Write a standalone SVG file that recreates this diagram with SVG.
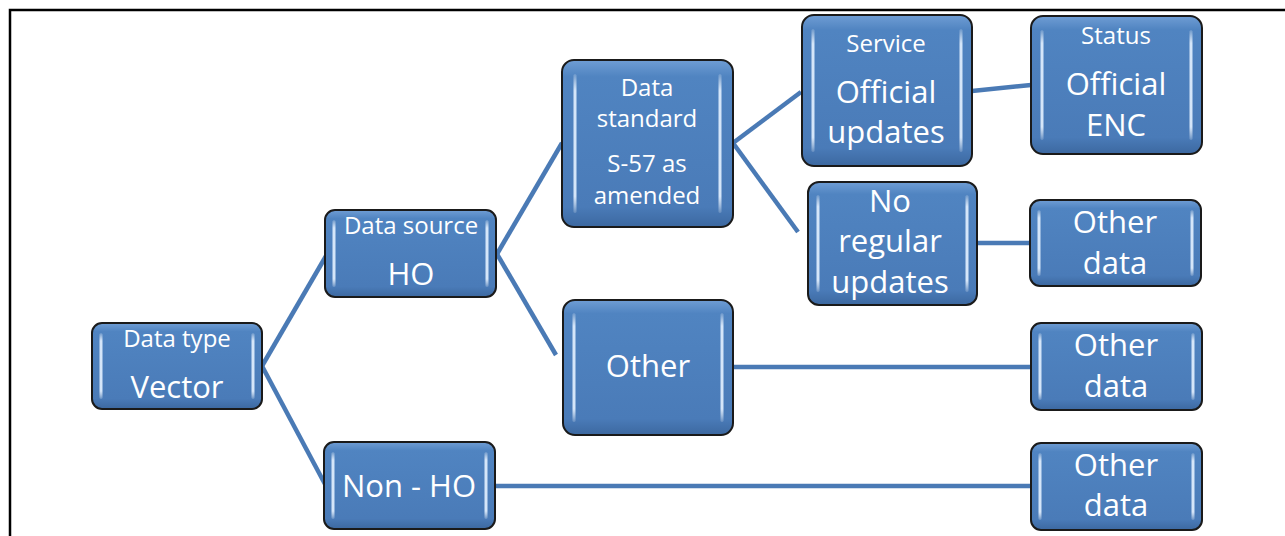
<svg xmlns="http://www.w3.org/2000/svg" width="1285" height="536" viewBox="0 0 1285 536">
<defs>
<linearGradient id="fillG" x1="0" y1="0" x2="0" y2="1">
<stop offset="0" stop-color="#6f9dd4"/>
<stop offset="0.1" stop-color="#5084c1"/>
<stop offset="0.88" stop-color="#4a7bb8"/>
<stop offset="1" stop-color="#3c68a0"/>
</linearGradient>
<linearGradient id="hiG" x1="0" y1="0" x2="0" y2="1">
<stop offset="0" stop-color="#ffffff" stop-opacity="0.15"/>
<stop offset="0.12" stop-color="#dcebfc" stop-opacity="0.95"/>
<stop offset="0.88" stop-color="#dcebfc" stop-opacity="0.95"/>
<stop offset="1" stop-color="#ffffff" stop-opacity="0.15"/>
</linearGradient>
</defs>
<style>
.box{fill:url(#fillG);stroke:#1a1a1a;stroke-width:2}
.hi{fill:url(#hiG)}
.conn{stroke:#4a7ab5;stroke-width:4.5;fill:none}
.s{font-family:"Open Sans","Liberation Sans",sans-serif;font-size:24px;fill:#ffffff;text-anchor:middle}
.l{font-family:"Open Sans","Liberation Sans",sans-serif;font-size:31px;fill:#ffffff;text-anchor:middle}
</style>
<rect width="1285" height="536" fill="#ffffff"/>
<path d="M10 536 V10 H1285" stroke="#000000" stroke-width="2.5" fill="none"/>
<g id="connectors">
<line class="conn" x1="262" y1="366" x2="326" y2="256"/>
<line class="conn" x1="262" y1="366" x2="326" y2="486"/>
<line class="conn" x1="497" y1="254" x2="562" y2="143"/>
<line class="conn" x1="497" y1="254" x2="556" y2="355"/>
<line class="conn" x1="733" y1="143" x2="801" y2="92"/>
<line class="conn" x1="733" y1="143" x2="798" y2="232"/>
<line class="conn" x1="972" y1="91" x2="1031" y2="85"/>
<line class="conn" x1="977" y1="243" x2="1030" y2="243"/>
<line class="conn" x1="733" y1="367" x2="1031" y2="367"/>
<line class="conn" x1="495" y1="486" x2="1031" y2="486"/>
</g>
<g id="n-datatype">
<rect class="box" x="92" y="323" width="170" height="86" rx="10"/>
<rect class="hi" x="99.5" y="333" width="3" height="66" rx="1.5"/>
<rect class="hi" x="251.5" y="333" width="3" height="66" rx="1.5"/>
<text class="s" x="177" y="347">Data type</text>
<text class="l" x="177" y="398">Vector</text>
</g>
<g id="n-datasource">
<rect class="box" x="325" y="210" width="171" height="87" rx="10"/>
<rect class="hi" x="332.5" y="220" width="3" height="67" rx="1.5"/>
<rect class="hi" x="485.5" y="220" width="3" height="67" rx="1.5"/>
<text class="s" x="411" y="234">Data source</text>
<text class="l" x="411" y="285">HO</text>
</g>
<g id="n-datastandard">
<rect class="box" x="562" y="60" width="171" height="167" rx="12"/>
<rect class="hi" x="573.5" y="74" width="3" height="139" rx="1.5"/>
<rect class="hi" x="718.5" y="74" width="3" height="139" rx="1.5"/>
<text class="s" x="647" y="96">Data</text>
<text class="s" x="647" y="127">standard</text>
<text class="s" x="647" y="172">S-57 as</text>
<text class="s" x="647" y="204">amended</text>
</g>
<g id="n-service">
<rect class="box" x="802" y="15" width="170" height="151" rx="12"/>
<rect class="hi" x="811.5" y="29" width="3" height="123" rx="1.5"/>
<rect class="hi" x="959.5" y="29" width="3" height="123" rx="1.5"/>
<text class="s" x="886" y="52">Service</text>
<text class="l" x="886" y="103">Official</text>
<text class="l" x="886" y="143">updates</text>
</g>
<g id="n-status">
<rect class="box" x="1031" y="16" width="171" height="138" rx="12"/>
<rect class="hi" x="1040.5" y="30" width="3" height="110" rx="1.5"/>
<rect class="hi" x="1189.5" y="30" width="3" height="110" rx="1.5"/>
<text class="s" x="1116" y="44">Status</text>
<text class="l" x="1116" y="95">Official</text>
<text class="l" x="1116" y="136">ENC</text>
</g>
<g id="n-noregular">
<rect class="box" x="808" y="182" width="169" height="123" rx="11"/>
<rect class="hi" x="816.5" y="195" width="3" height="97" rx="1.5"/>
<rect class="hi" x="965.5" y="195" width="3" height="97" rx="1.5"/>
<text class="l" x="890" y="212">No</text>
<text class="l" x="890" y="252">regular</text>
<text class="l" x="890" y="293">updates</text>
</g>
<g id="n-otherdata1">
<rect class="box" x="1030" y="200" width="171" height="86" rx="10"/>
<rect class="hi" x="1037.5" y="210" width="3" height="66" rx="1.5"/>
<rect class="hi" x="1190.5" y="210" width="3" height="66" rx="1.5"/>
<text class="l" x="1115" y="233">Other</text>
<text class="l" x="1115" y="274">data</text>
</g>
<g id="n-other">
<rect class="box" x="563" y="300" width="170" height="135" rx="12"/>
<rect class="hi" x="572.5" y="313" width="3" height="109" rx="1.5"/>
<rect class="hi" x="720.5" y="313" width="3" height="109" rx="1.5"/>
<text class="l" x="648" y="377">Other</text>
</g>
<g id="n-otherdata2">
<rect class="box" x="1031" y="323" width="171" height="87" rx="10"/>
<rect class="hi" x="1038.5" y="333" width="3" height="67" rx="1.5"/>
<rect class="hi" x="1191.5" y="333" width="3" height="67" rx="1.5"/>
<text class="l" x="1116" y="356">Other</text>
<text class="l" x="1116" y="397">data</text>
</g>
<g id="n-nonho">
<rect class="box" x="324" y="442" width="171" height="87" rx="10"/>
<rect class="hi" x="331.5" y="452" width="3" height="67" rx="1.5"/>
<rect class="hi" x="484.5" y="452" width="3" height="67" rx="1.5"/>
<text class="l" x="409" y="497">Non - HO</text>
</g>
<g id="n-otherdata3">
<rect class="box" x="1031" y="443" width="171" height="87" rx="10"/>
<rect class="hi" x="1038.5" y="453" width="3" height="67" rx="1.5"/>
<rect class="hi" x="1191.5" y="453" width="3" height="67" rx="1.5"/>
<text class="l" x="1116" y="476">Other</text>
<text class="l" x="1116" y="516">data</text>
</g>
</svg>
